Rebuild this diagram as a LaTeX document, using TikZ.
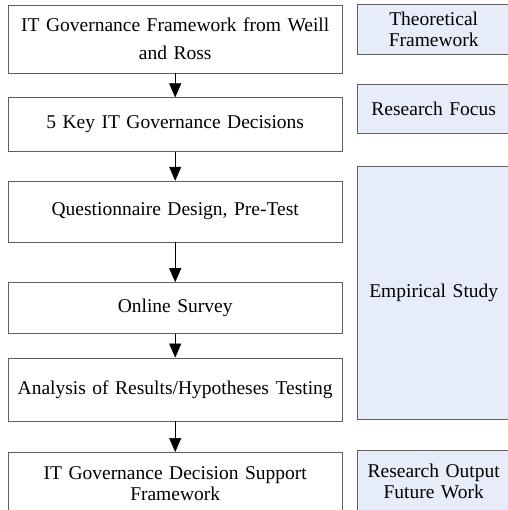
\documentclass[tikz,border=0pt]{standalone}
\usepackage{fontspec}
\setmainfont{Liberation Serif}
\usetikzlibrary{arrows.meta,positioning}

\definecolor{phasefill}{RGB}{230,236,248}
\definecolor{boxline}{RGB}{95,95,95}

\begin{document}
\begin{tikzpicture}[
x=1pt,y=1pt,
block/.style={
draw=boxline,
fill=white,
rectangle,
inner sep=0pt,
minimum width=334pt,
text width=324pt,
align=center,
font=\fontsize{19.5}{28}\selectfont},
phase/.style={
draw=boxline,
fill=phasefill,
rectangle,
inner sep=0pt,
minimum width=153pt,
text width=150pt,
align=center,
anchor=north west,
font=\fontsize{19.5}{21}\selectfont},
flow/.style={-{Triangle[length=14pt,width=12pt]},black,line width=0.6pt}]
\useasboundingbox (0,0) rectangle (507,-510);

% research steps, top to bottom
\node[block,minimum height=68pt,anchor=north west] at (8,-5) (a) {IT Governance Framework from Weill\\and Ross};
\node[block,minimum height=54pt,below=24pt of a] (b) {5 Key IT Governance Decisions};
\node[block,minimum height=61pt,below=29pt of b] (c) {Questionnaire Design, Pre-Test};
\node[block,minimum height=51pt,below=40pt of c] (d) {Online Survey};
\node[block,minimum height=63pt,below=24pt of d] (e) {Analysis of Results/Hypotheses Testing};
\node[block,minimum height=63pt,below=31pt of e,font=\fontsize{19.5}{21}\selectfont] (f) {IT Governance Decision Support\\Framework};

\draw[flow] (a.south) -- (b.north);
\draw[flow] (b.south) -- (c.north);
\draw[flow] (c.south) -- (d.north);
\draw[flow] (d.south) -- (e.north);
\draw[flow] (e.south) -- (f.north);

% phases on the right
\node[phase,minimum height=50pt] at (357,-4) (p1) {Theoretical\\Framework};
\node[phase,minimum height=49pt] at (357,-84) (p2) {Research Focus};
\node[phase,minimum height=253pt] at (357,-166) (p3) {Empirical Study};
\node[phase,minimum height=63pt] at (357,-450) (p4) {Research Output\\Future Work};
\end{tikzpicture}
\end{document}
